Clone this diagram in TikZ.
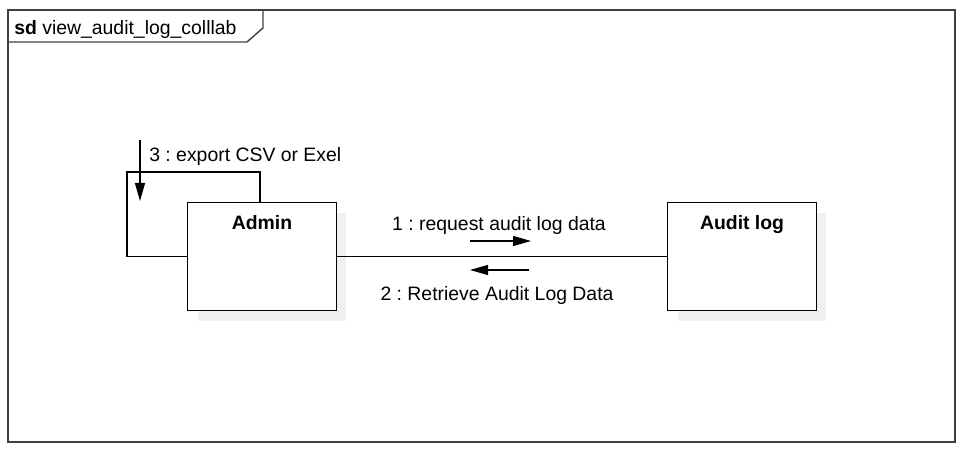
\documentclass[tikz,border=0pt]{standalone}
\usepackage{fontspec}
\setmainfont{Liberation Sans}
\usepackage{tikz}
\usetikzlibrary{
  positioning,
  calc,
  arrows.meta,
  shadows
}
\frenchspacing
\definecolor{framegray}{HTML}{404040}
\definecolor{shadowgray}{HTML}{F0F0F0}
\tikzstyle{frame}=[framegray, line width=1.4pt]
\tikzstyle{lifebox}=[draw, line width=0.9pt, fill=white, anchor=north west,
  minimum width=3.72cm, minimum height=2.7cm,
  drop shadow={shadow xshift=0.25cm, shadow yshift=-0.25cm, fill=shadowgray, opacity=1}]
\tikzstyle{link}=[line width=0.9pt]
\tikzstyle{msg}=[-{Triangle[length=0.45cm,width=0.25cm]}, line width=0.9pt]
\tikzstyle{msglabel}=[font=\fontsize{13.8}{16}\selectfont, inner sep=0pt]

\begin{document}
\begin{tikzpicture}[x=0.025cm, y=-0.025cm]
    % page: 973 x 457 px
    \useasboundingbox (0,0) rectangle (973,457);

    % FRAME
    \draw[frame] (8,10) rectangle (955,442);
    \draw[frame, line width=1pt] (8,42) -- (247,42) -- (263,28) -- (263,10);
    \node[msglabel, anchor=west] (title) at (14,29) {\textbf{sd} view\_audit\_log\_colllab};

    % LIFELINES
    \node[lifebox] (admin) at (187,202) {};
    \node[lifebox] (audit) at (667,202) {};
    \node[msglabel, font=\fontsize{13.8}{16}\selectfont\bfseries, below=0.32cm of admin.north] (adminname) {Admin};
    \node[msglabel, font=\fontsize{13.8}{16}\selectfont\bfseries, below=0.32cm of audit.north] (auditname) {Audit log};

    % LINKS
    \draw[link] (admin.east) -- (audit.west);
    \coordinate (loopcorner) at (127,172);
    \draw[link] ([xshift=1.825cm]admin.north west) |- (loopcorner) |- (admin.west);

    % MESSAGES
    \coordinate (m1start) at (470,241);
    \coordinate (m1end)   at (531,241);
    \coordinate (m2start) at (529,270);
    \coordinate (m2end)   at (470,270);
    \coordinate (m3start) at (140,140);
    \coordinate (m3end)   at (140,201);
    \draw[msg] (m1start) -- (m1end);
    \draw[msg] (m2start) -- (m2end);
    \draw[msg] (m3start) -- (m3end);

    \node[msglabel] (m1label) at (499,225) {1 : request audit log data};
    \node[msglabel] (m2label) at (497,295) {2 : Retrieve Audit Log Data};
    \node[msglabel, anchor=west] (m3label) at (149,156) {3 : export CSV or Exel};
\end{tikzpicture}
\end{document}
